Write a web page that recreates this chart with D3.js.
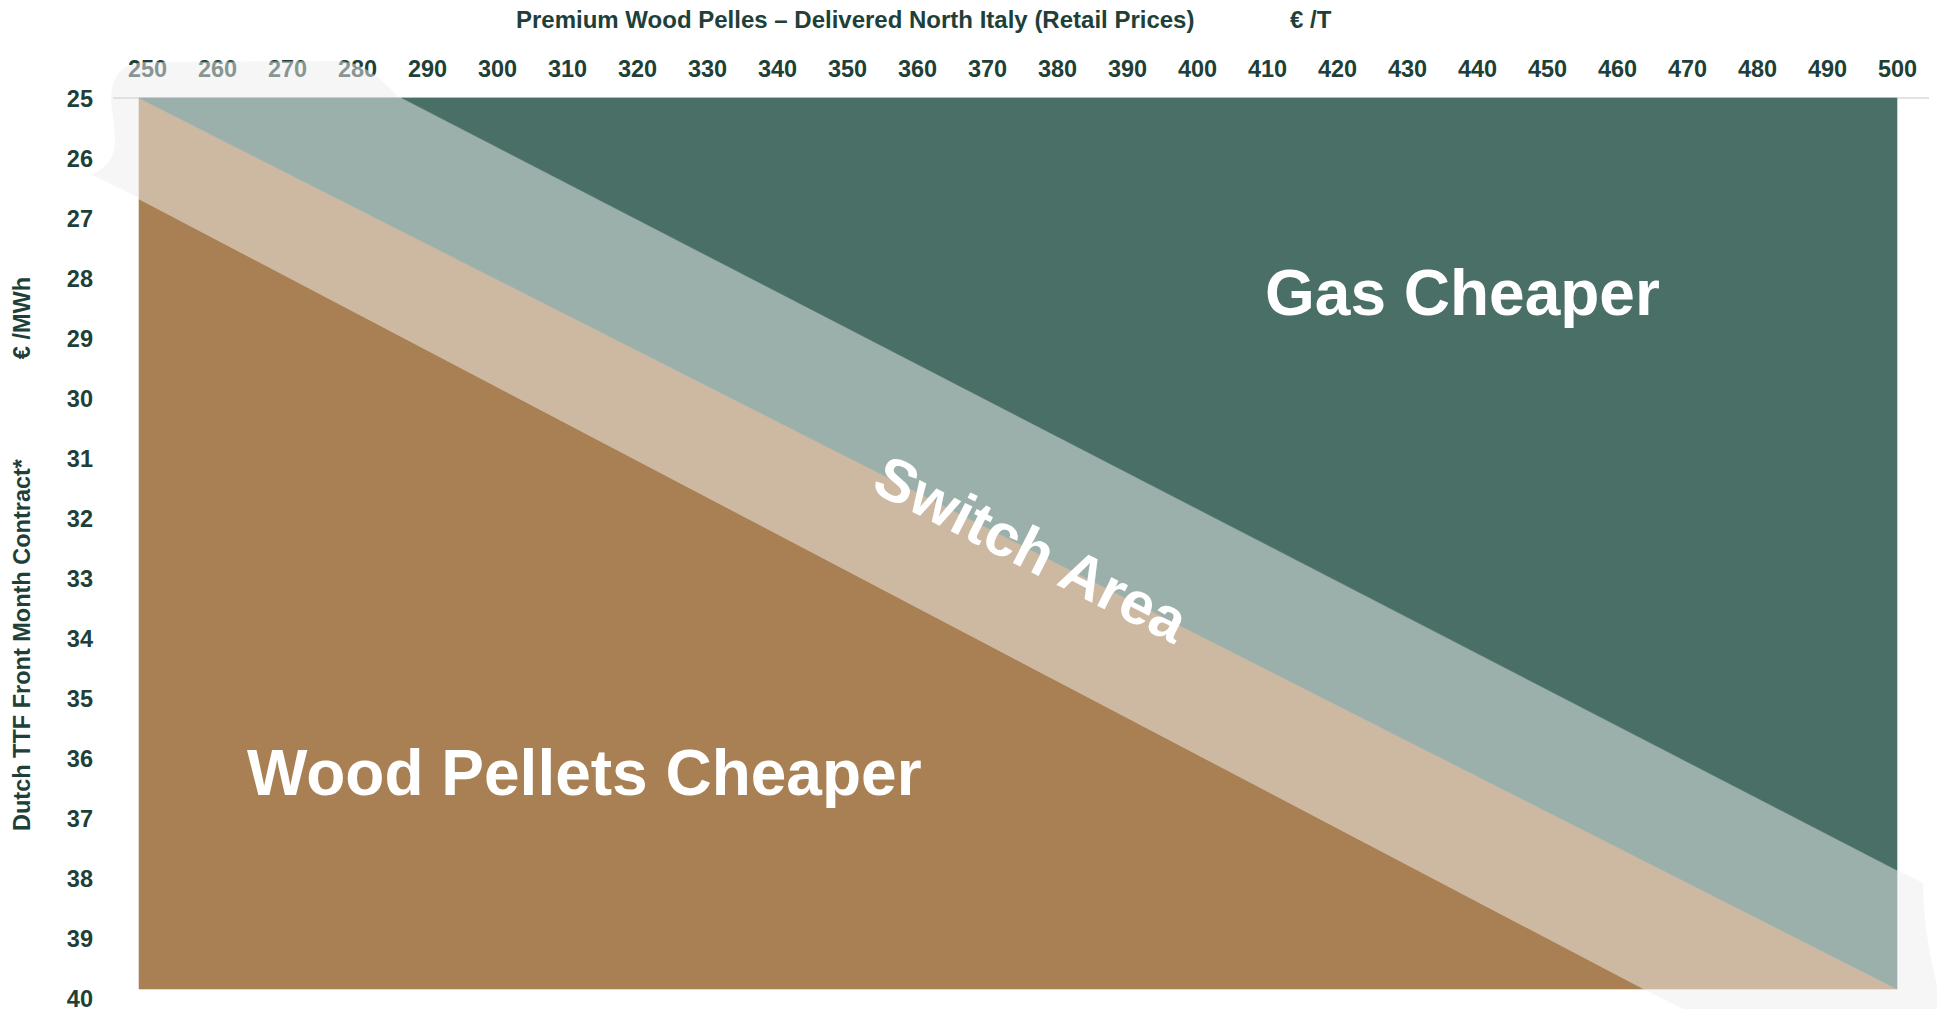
<!DOCTYPE html>
<html>
<head>
<meta charset="utf-8">
<script src="https://cdn.jsdelivr.net/npm/d3@7"></script>
<style>
  html, body { margin: 0; padding: 0; background: #fff; }
  svg { display: block; font-family: "Liberation Sans", Arial, sans-serif; }
  .tick text { font-size: 23.5px; font-weight: bold; fill: #203f38; }
  .axis-title { font-size: 23.5px; font-weight: bold; fill: #203f38; }
  .main-title { font-size: 24px; font-weight: bold; fill: #203f38; }
  .zone-label { font-weight: bold; fill: #fff; }
</style>
</head>
<body>
<div id="chart"></div>
<script>
// pellet price (€/T) on x, gas price (€/MWh) on y
const xTicks = [250, 260, 270, 280, 290, 300, 310, 320, 330, 340, 350, 360, 370,
                380, 390, 400, 410, 420, 430, 440, 450, 460, 470, 480, 490, 500];
const yTicks = [25, 26, 27, 28, 29, 30, 31, 32, 33, 34, 35, 36, 37, 38, 39, 40];

// boundary lines between the zones, [pellet price, gas price]
const woodLine = [[250, 26.7], [464, 40]];
const midLine = [[250, 25], [500, 40]];
const gasLine = [[287.4, 25], [500, 38]];

const zoneNames = ['Wood Pellets Cheaper', 'Switch Area', 'Gas Cheaper'];
const colors = ['#a98053', '#cdb8a1', '#9bb0ab', '#496f66'];

document.addEventListener('DOMContentLoaded', function(){
  drawChart();
});

function drawChart() {
  const width = 1937;
  const height = 1009;

  const svg = d3.select('#chart').append('svg')
    .attr('width', width).attr('height', height);

  // plot area scales
  const x = d3.scaleLinear().domain([250, 500]).range([139, 1897]);
  const y = d3.scaleLinear().domain([25, 40]).range([98, 989]);
  // labels are set a little apart from the filled area
  const xLab = d3.scaleLinear().domain([250, 500]).range([147, 1897]);
  const yLab = d3.scaleLinear().domain([25, 40]).range([98, 998]);

  // title
  svg.append('text').classed('main-title', true)
    .attr('x', 516).attr('y', 28)
    .text('Premium Wood Pelles \u2013 Delivered North Italy (Retail Prices)');
  svg.append('text').classed('main-title', true)
    .attr('x', 1290).attr('y', 28)
    .text('\u20ac /T');

  // axes (labels only)
  const gx = svg.append('g')
    .attr('transform', 'translate(0,77)')
    .call(d3.axisTop(xLab).tickValues(xTicks).tickSize(0).tickPadding(0).tickFormat(d3.format('d')));
  gx.select('.domain').remove();
  gx.selectAll('text').attr('dy', 0);
  gx.attr('font-family', null).attr('font-size', null);

  const gy = svg.append('g')
    .attr('transform', 'translate(93,0)')
    .call(d3.axisLeft(yLab).tickValues(yTicks).tickSize(0).tickPadding(0).tickFormat(d3.format('d')));
  gy.select('.domain').remove();
  gy.selectAll('text').attr('dy', '0.34em');
  gy.attr('font-family', null).attr('font-size', null);

  // y axis title
  svg.append('text').classed('axis-title', true)
    .attr('text-anchor', 'middle')
    .attr('transform', 'translate(30,645) rotate(-90)')
    .text('Dutch TTF Front Month Contract*');
  svg.append('text').classed('axis-title', true)
    .attr('text-anchor', 'middle')
    .attr('transform', 'translate(30,318) rotate(-90)')
    .text('\u20ac /MWh');

  // faint grey shapes behind the plot (they wash over some labels)
  const blobs = svg.append('g').attr('fill', 'rgb(237,237,237)').attr('fill-opacity', 0.5);
  blobs.append('path')
    .attr('d', 'M140,198 L92,175 C105,168 115,160 115,140 C115,120 108,100 113,85 C116,72 125,64 145,62 L340,61 C365,63 382,80 400,98 L400,198 Z');
  blobs.append('path')
    .attr('d', 'M1643,989 L1683,1009 L1937,1009 L1937,985 C1931,960 1924,930 1923,883 L1897,870 L1897,989 Z');

  // top rule
  svg.append('line')
    .attr('x1', x(250) - 26).attr('x2', x(500) + 32)
    .attr('y1', y(25)).attr('y2', y(25))
    .attr('stroke', '#d9d9d9').attr('stroke-width', 1.5);

  // zones
  const xMin = x.domain()[0], xMax = x.domain()[1];
  const yMin = y.domain()[0], yMax = y.domain()[1];
  const zones = [
    [woodLine[0], woodLine[1], [xMin, yMax]],
    [midLine[0], midLine[1], woodLine[1], woodLine[0]],
    [midLine[0], gasLine[0], gasLine[1], midLine[1]],
    [gasLine[0], [xMax, yMin], gasLine[1]]
  ];
  const line = d3.line().x(function(d) { return x(d[0]); }).y(function(d) { return y(d[1]); });

  svg.append('g').attr('id', 'zones')
    .selectAll('path')
    .data(zones)
    .enter()
    .append('path')
    .attr('d', function(d) { return line(d) + 'Z'; })
    .attr('fill', function(d, i) { return colors[i]; })
    .attr('stroke', function(d, i) { return colors[i]; })
    .attr('stroke-width', 0.6);

  // zone labels
  svg.append('text').classed('zone-label', true)
    .attr('x', 247).attr('y', 795)
    .style('font-size', '64px')
    .text(zoneNames[0]);

  // switch label follows the slope of the band
  const angle = Math.atan2(y(midLine[1][1]) - y(midLine[0][1]), x(midLine[1][0]) - x(midLine[0][0])) * 180 / Math.PI;
  svg.append('text').classed('zone-label', true)
    .attr('text-anchor', 'middle')
    .attr('dominant-baseline', 'central')
    .attr('transform', 'translate(1031,549) rotate(' + angle + ')')
    .style('font-size', '60px')
    .text(zoneNames[1]);

  svg.append('text').classed('zone-label', true)
    .attr('x', 1265).attr('y', 315)
    .style('font-size', '64px')
    .text(zoneNames[2]);
}
</script>
</body>
</html>
